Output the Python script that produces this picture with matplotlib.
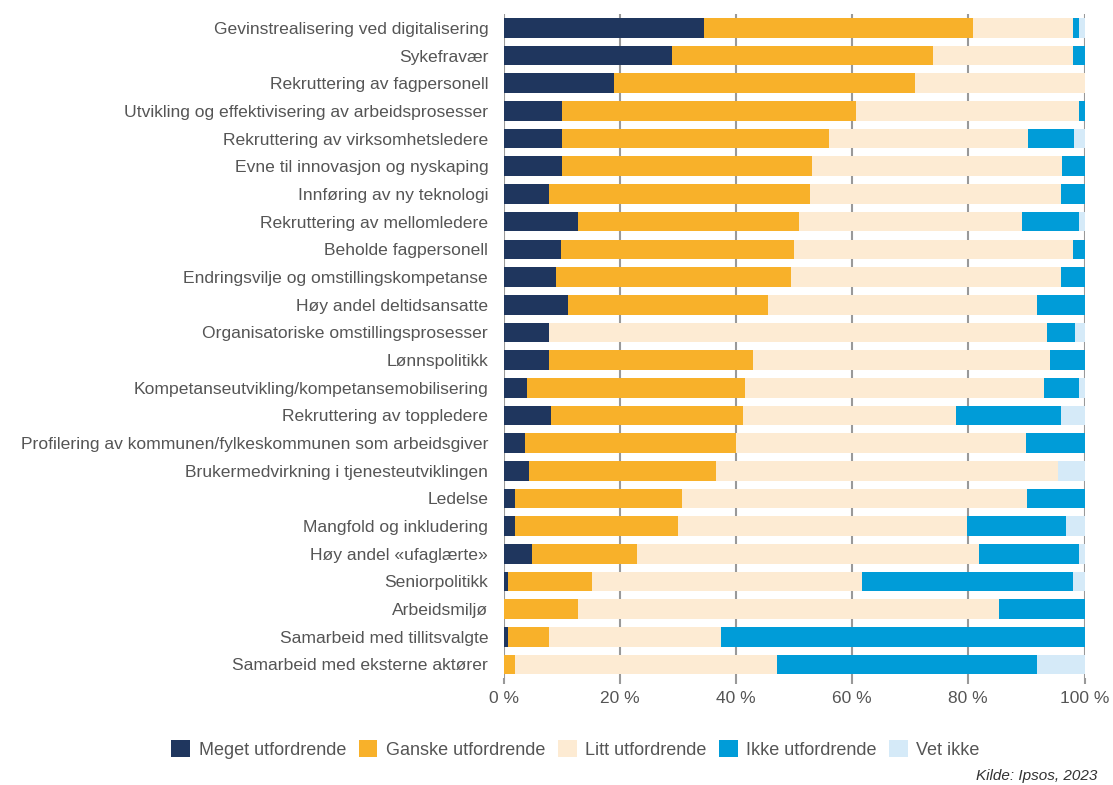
import numpy as np
import matplotlib.pyplot as plt

plt.rcParams['font.family'] = ['Liberation Sans', 'DejaVu Sans']

categories = [
    "Gevinstrealisering ved digitalisering",
    "Sykefravær",
    "Rekruttering av fagpersonell",
    "Utvikling og effektivisering av arbeidsprosesser",
    "Rekruttering av virksomhetsledere",
    "Evne til innovasjon og nyskaping",
    "Innføring av ny teknologi",
    "Rekruttering av mellomledere",
    "Beholde fagpersonell",
    "Endringsvilje og omstillingskompetanse",
    "Høy andel deltidsansatte",
    "Organisatoriske omstillingsprosesser",
    "Lønnspolitikk",
    "Kompetanseutvikling/kompetansemobilisering",
    "Rekruttering av toppledere",
    "Profilering av kommunen/fylkeskommunen som arbeidsgiver",
    "Brukermedvirkning i tjenesteutviklingen",
    "Ledelse",
    "Mangfold og inkludering",
    "Høy andel «ufaglærte»",
    "Seniorpolitikk",
    "Arbeidsmiljø",
    "Samarbeid med tillitsvalgte",
    "Samarbeid med eksterne aktører",
]

meget  = [34.5, 29.0, 19.0, 10.0, 10.0, 10.0, 7.8, 12.8, 9.9, 9.0, 11.1, 7.8,
          7.8, 4.0, 8.1, 3.7, 4.3, 2.0, 2.0, 4.9, 0.8, 0.0, 0.8, 0.0]
ganske = [46.3, 45.0, 51.8, 50.6, 46.0, 43.1, 44.9, 38.1, 40.1, 40.4, 34.5, 0.0,
          35.1, 37.5, 33.1, 36.4, 32.2, 28.7, 28.0, 18.1, 14.4, 12.8, 7.0, 2.0]
litt   = [17.2, 24.0, 29.2, 38.5, 34.2, 43.0, 43.3, 38.4, 48.1, 46.6, 46.3, 85.8,
          51.1, 51.5, 36.7, 49.8, 58.9, 59.4, 49.8, 58.9, 46.5, 72.4, 29.7, 45.1]
ikke   = [1.0, 2.0, 0.0, 1.0, 8.0, 4.0, 4.0, 9.7, 1.9, 4.0, 8.1, 4.8,
          6.0, 6.0, 18.1, 10.1, 0.0, 9.9, 17.1, 17.1, 36.4, 14.8, 62.5, 44.8]
vet    = [1.0, 0.0, 0.0, 0.0, 1.9, 0.0, 0.0, 1.0, 0.0, 0.0, 0.0, 1.6,
          0.0, 1.0, 4.0, 0.0, 4.6, 0.0, 3.1, 1.0, 1.9, 0.0, 0.0, 8.1]

series = [
    ("Meget utfordrende", meget, "#1f365e"),
    ("Ganske utfordrende", ganske, "#f8b12a"),
    ("Litt utfordrende", litt, "#fdebd3"),
    ("Ikke utfordrende", ikke, "#009cd8"),
    ("Vet ikke", vet, "#d5eaf8"),
]

fig = plt.figure(figsize=(11.13, 7.85), dpi=100)
ax = fig.add_axes([0.4524, 0.136, 0.522, 0.846])

y = np.arange(len(categories))
left = np.zeros(len(categories))
for name, vals, col in series:
    vals = np.array(vals)
    ax.barh(y, vals, left=left, height=0.71, color=col, label=name, zorder=3)
    left += vals

ax.set_xlim(0, 100)
ax.set_ylim(len(categories) - 0.5, -0.5)
ax.set_yticks(y)
ax.set_yticklabels(categories, fontsize=12.6, color="#555555")
ax.tick_params(axis="y", length=0, pad=11)
ax.set_xticks([0, 20, 40, 60, 80, 100])
ax.set_xticklabels(["0 %", "20 %", "40 %", "60 %", "80 %", "100 %"],
                   fontsize=12.5, color="#555555")
ax.tick_params(axis="x", length=4, color="#999999", width=1.5, pad=5)
ax.grid(axis="x", color="#999999", linewidth=1.5, zorder=0)
for s in ax.spines.values():
    s.set_visible(False)

fig.legend(loc="center", bbox_to_anchor=(0.517, 0.045), ncol=5, frameon=False,
           fontsize=13, handlelength=1.05, handleheight=1.05, handletextpad=0.45,
           columnspacing=0.7, labelcolor="#555555")

fig.text(0.986, 0.011, "Kilde: Ipsos, 2023", ha="right", va="center",
         fontsize=11, style="italic", color="#333333")

fig.savefig("out.png", dpi=100)
